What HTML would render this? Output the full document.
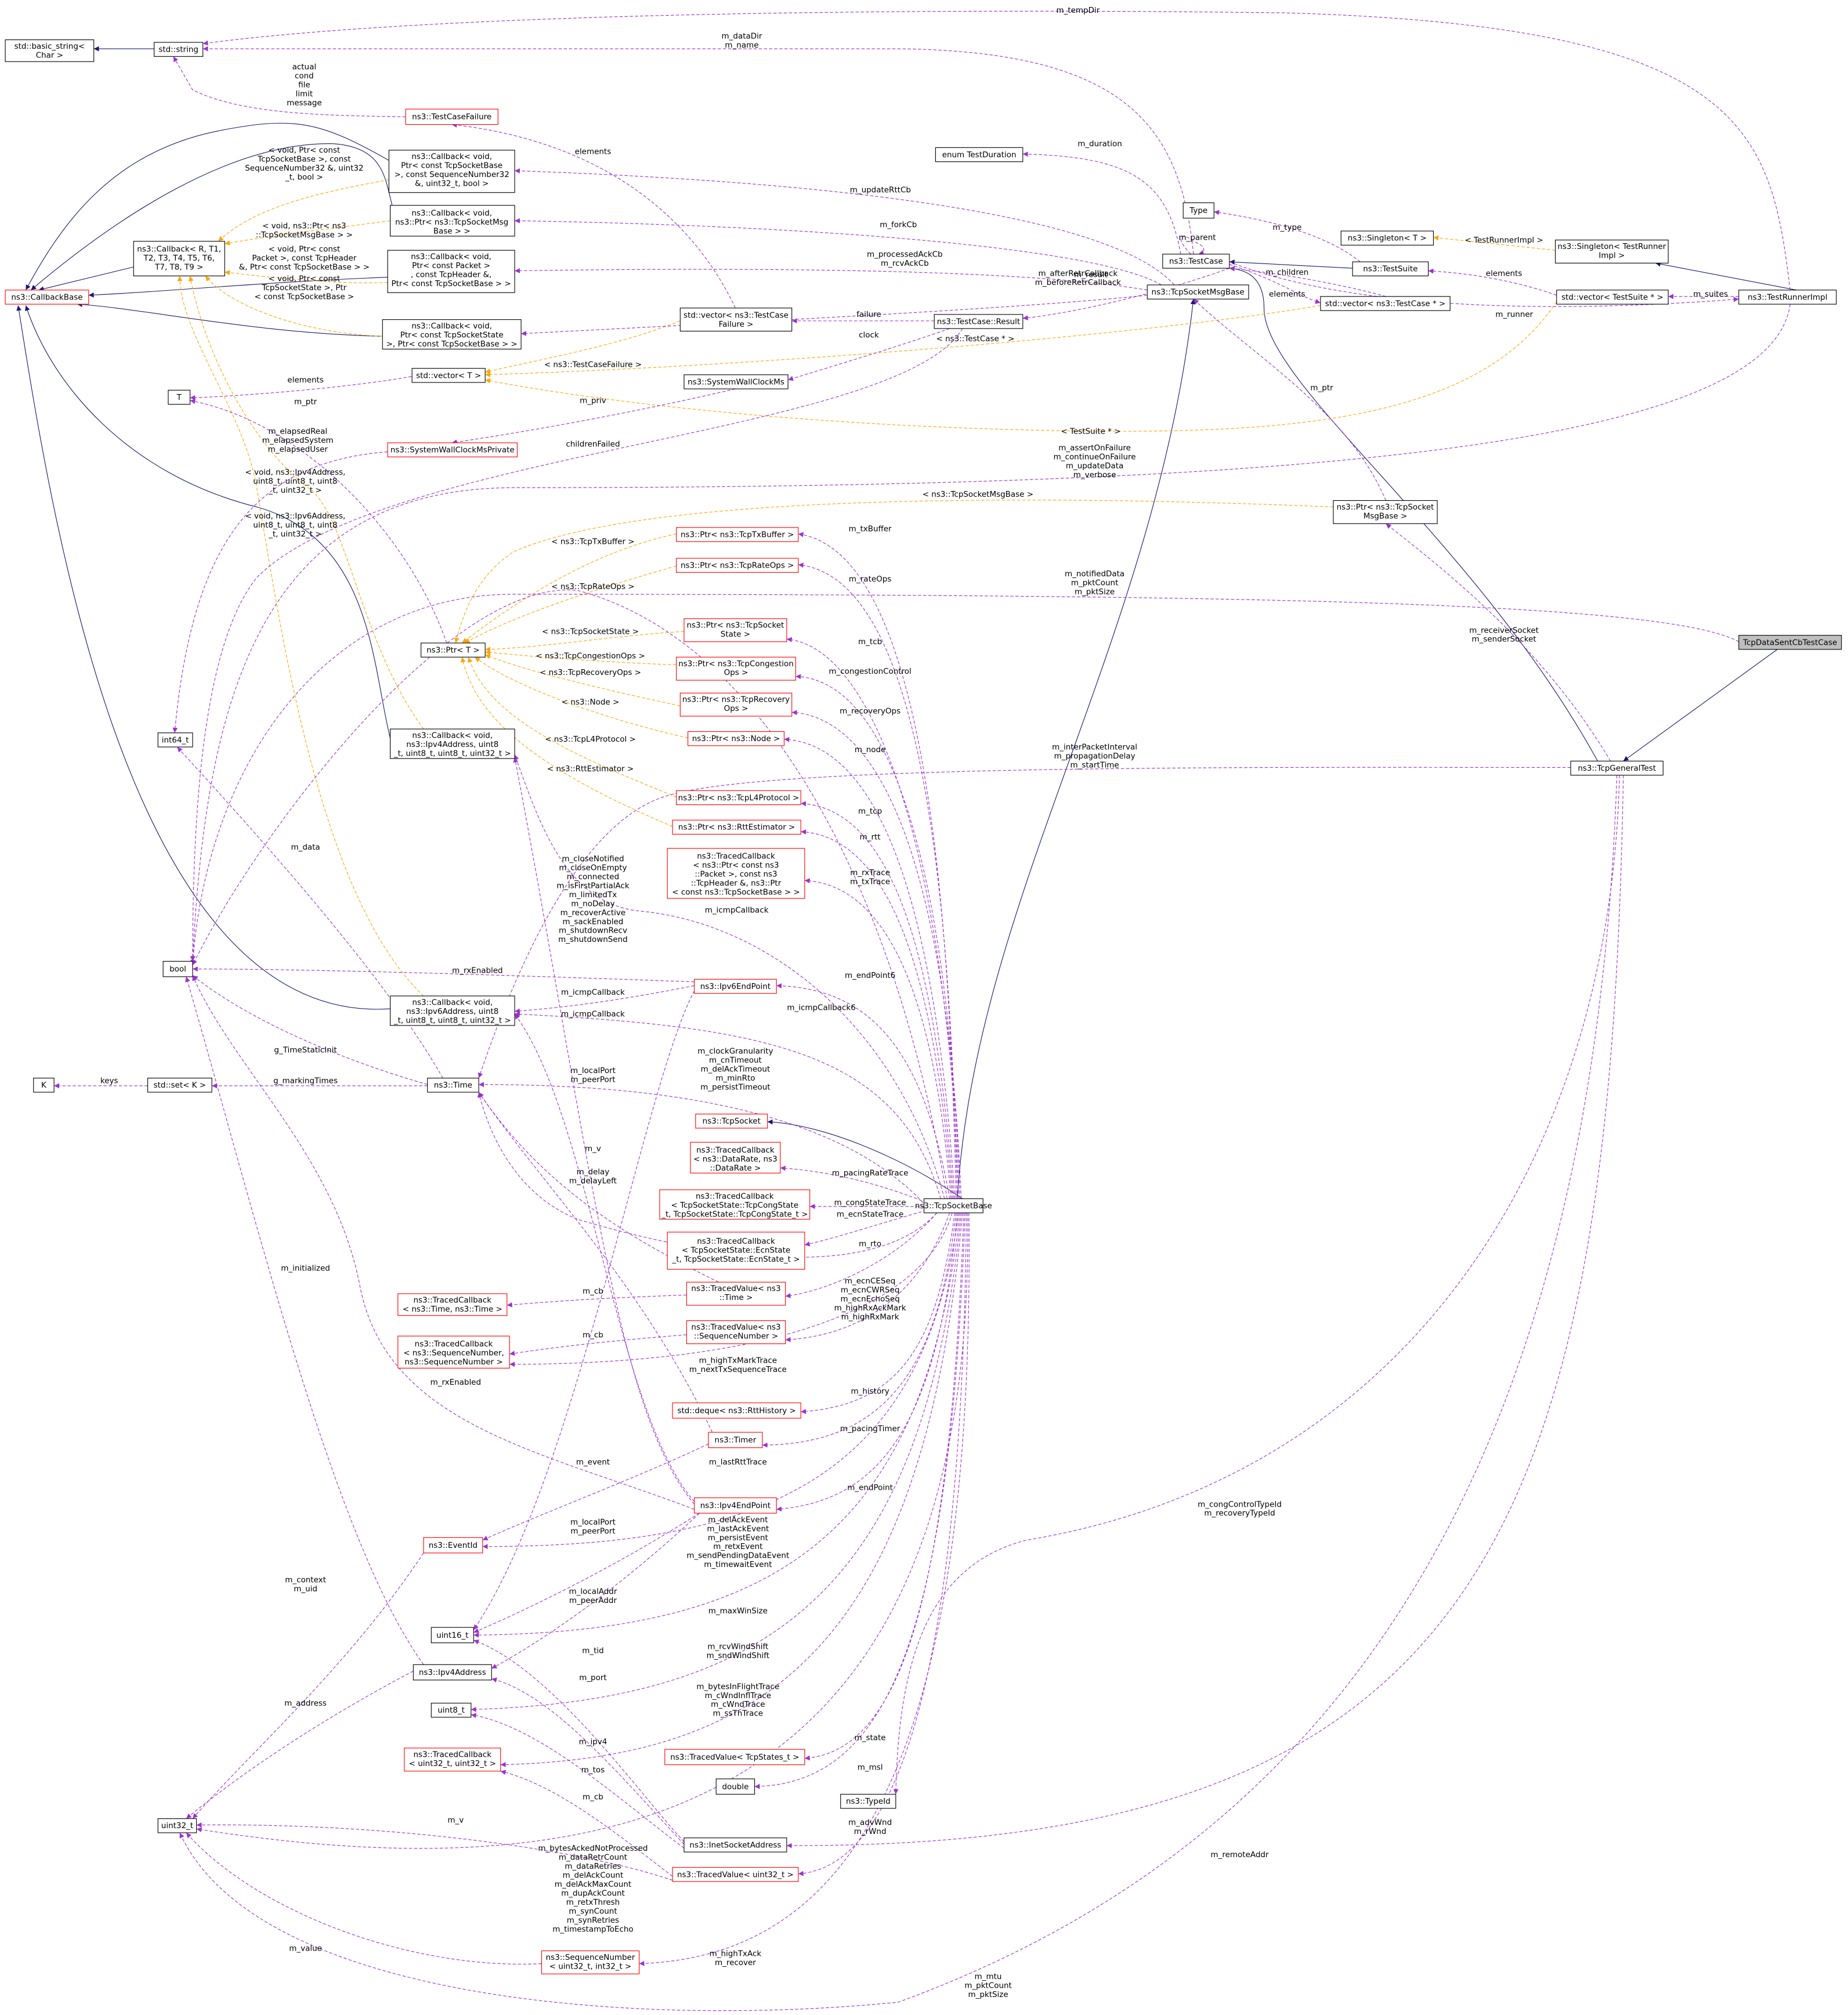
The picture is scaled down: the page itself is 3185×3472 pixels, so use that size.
<!DOCTYPE html>
<html><head><meta charset="utf-8"><style>
html,body{margin:0;padding:0;background:#fff;}
svg{display:block;}
text{font-family:"DejaVu Sans","Liberation Sans",sans-serif;font-size:6.1px;fill:#000;text-anchor:middle;}
.p{fill:none;stroke:#9a32cd;stroke-width:0.5;stroke-dasharray:2.5,1.5;}
.o{fill:none;stroke:#ffa500;stroke-width:0.5;stroke-dasharray:2.5,1.5;}
.n{fill:none;stroke:#191970;stroke-width:0.5;}
.b{fill:#fff;stroke:#000;stroke-width:0.5;}
.r{fill:#fff;stroke:#ff0000;stroke-width:0.5;}
.g{fill:#bfbfbf;stroke:#000;stroke-width:0.5;}
</style></head><body>
<svg width="3185" height="3472" viewBox="0 0 1440 1570" xmlns="http://www.w3.org/2000/svg">
<defs>
<marker id="ap" viewBox="0 0 10 10" refX="10" refY="5" markerWidth="4" markerHeight="4" markerUnits="userSpaceOnUse" orient="auto"><path d="M0,0L10,5L0,10z" fill="#9a32cd"/></marker>
<marker id="ao" viewBox="0 0 10 10" refX="10" refY="5" markerWidth="4" markerHeight="4" markerUnits="userSpaceOnUse" orient="auto"><path d="M0,0L10,5L0,10z" fill="#ffa500"/></marker>
<marker id="an" viewBox="0 0 10 10" refX="10" refY="5" markerWidth="4" markerHeight="4" markerUnits="userSpaceOnUse" orient="auto"><path d="M0,0L10,5L0,10z" fill="#191970"/></marker>
</defs>

<!-- navy edges -->
<g class="n" marker-end="url(#an)">
<path d="M120,38L73,38"/>
<path d="M303,125C250,95 230,90 170,102C90,118 50,170 20,226"/>
<path d="M306,162C300,140 300,115 260,112C180,110 90,170 24,226"/>
<path d="M104,208L30,226"/>
<path d="M302,216C200,220 120,228 69,230"/>
<path d="M298,262C200,260 110,240 60,237"/>
<path d="M304,575C290,520 290,420 200,395C100,370 40,300 20,238"/>
<path d="M304,786C100,800 40,400 14,238"/>
<path d="M1054,209L958,204"/>
<path d="M1245,593C1150,420 985,300 985,240C985,215 970,210 958,209"/>
<path d="M746,934C760,700 900,500 930,233"/>
<path d="M750,934C700,900 640,876 598,874"/>
<path d="M1400,226L1290,205"/>
<path d="M1385,506L1265,593"/>
</g>

<!-- orange edges -->
<g class="o" marker-end="url(#ao)">
<path d="M303,140C250,150 200,160 170,188"/>
<path d="M304,172C260,178 220,182 175,190"/>
<path d="M302,220C260,222 200,215 175,212"/>
<path d="M298,262C240,260 180,240 160,215"/>
<path d="M330,568C280,500 270,400 240,380C200,350 160,280 148,215"/>
<path d="M330,776C250,700 220,500 200,380C190,320 140,260 140,215"/>
<path d="M530,250C480,270 420,280 378,290"/>
<path d="M1029,238C900,260 600,285 378,292"/>
<path d="M1213,235C1150,330 1000,340 800,335C600,330 450,310 378,296"/>
<path d="M527,416C460,430 400,470 360,501"/>
<path d="M527,441C460,460 400,480 362,501"/>
<path d="M533,492C480,495 420,505 378,506"/>
<path d="M527,518C470,516 420,512 378,508"/>
<path d="M530,550C460,535 400,520 378,510"/>
<path d="M536,575C470,560 400,535 370,512"/>
<path d="M527,621C450,590 380,560 365,512"/>
<path d="M524,644C420,600 370,560 360,512"/>
<path d="M1039,395C800,385 500,385 400,430C370,450 360,480 355,501"/>
<path d="M1212,195L1117,185"/>
</g>

<!-- purple edges -->
<g class="p" marker-end="url(#ap)">
<path d="M1395,226C1380,100 1360,20 1000,10C600,5 300,15 158,34"/>
<path d="M930,198C920,100 880,40 700,38L158,38"/>
<path d="M316,91C260,90 190,90 150,70L135,44"/>
<path d="M573,240C540,170 470,110 352,97"/>
<path d="M920,198C910,140 880,122 797,120"/>
<path d="M915,222C860,160 600,140 401,133"/>
<path d="M905,222C850,190 600,175 401,172"/>
<path d="M894,226C800,210 600,208 401,211"/>
<path d="M894,230C800,240 600,250 406,260"/>
<path d="M1060,204C1030,180 980,170 946,165"/>
<path d="M928,198C915,185 920,180 930,188C940,192 940,196 934,198"/>
<path d="M958,206C1000,220 1010,230 1029,236"/>
<path d="M958,209C900,230 830,245 797,248"/>
<path d="M1213,230C1170,215 1130,212 1113,211"/>
<path d="M1080,231C1040,220 990,212 958,209"/>
<path d="M1355,231L1300,231"/>
<path d="M958,204C1050,240 1200,245 1355,233"/>
<path d="M728,250L617,250"/>
<path d="M740,256C700,270 650,285 614,296"/>
<path d="M750,256C700,340 300,350 200,450C160,500 150,620 150,749"/>
<path d="M352,287C300,300 200,308 148,310"/>
<path d="M573,303C500,320 420,335 352,345"/>
<path d="M302,352C200,360 150,420 136,571"/>
<path d="M348,501C320,420 240,330 148,312"/>
<path d="M1395,237C1380,350 1000,380 400,380C200,380 160,550 150,749"/>
<path d="M1080,390C1050,320 980,280 930,233"/>
<path d="M1255,593C1200,500 1120,440 1080,408"/>
<path d="M1355,500C1300,470 1000,463 400,463C250,463 160,600 150,752"/>
<path d="M1224,598C1000,598 600,595 520,620C450,640 400,760 373,840"/>
<path d="M1260,604C1240,1200 1000,1450 700,1560C500,1580 200,1560 140,1428"/>
<path d="M1262,604C1255,900 1100,1150 800,1200C720,1220 700,1300 698,1398"/>
<path d="M1265,604C1255,1200 1150,1440 613,1438"/>
<path d="M745,934C740,700 720,430 622,416"/>
<path d="M746,934C740,700 720,450 622,440"/>
<path d="M747,934C740,700 690,505 613,498"/>
<path d="M748,934C740,700 700,530 620,527"/>
<path d="M749,934C740,720 700,560 617,555"/>
<path d="M744,934C730,720 690,580 611,576"/>
<path d="M743,934C730,760 700,630 624,626"/>
<path d="M742,934C730,780 700,652 624,648"/>
<path d="M741,934C730,800 700,690 627,686"/>
<path d="M740,934C720,820 680,770 605,768"/>
<path d="M738,934C700,700 600,500 450,460C350,450 200,650 150,752"/>
<path d="M736,934C700,800 600,720 500,710C440,705 420,640 401,588"/>
<path d="M733,934C700,820 600,800 401,790"/>
<path d="M722,940C650,860 500,845 373,845"/>
<path d="M722,937C680,920 640,912 608,910"/>
<path d="M720,940L631,940"/>
<path d="M722,943C680,955 650,965 627,970"/>
<path d="M730,945C700,980 650,1005 612,1010"/>
<path d="M740,945C720,1000 680,1040 612,1044"/>
<path d="M742,945C720,1020 600,1063 397,1063"/>
<path d="M744,945C730,1050 700,1095 624,1100"/>
<path d="M745,945C730,1080 680,1125 594,1126"/>
<path d="M746,945C730,1120 680,1170 605,1176"/>
<path d="M747,945C720,1150 600,1205 376,1205"/>
<path d="M748,945C720,1200 600,1272 369,1274"/>
<path d="M749,945C720,1240 600,1325 367,1332"/>
<path d="M750,945C720,1280 600,1370 390,1375"/>
<path d="M751,945C740,1250 700,1365 627,1370"/>
<path d="M752,945C740,1280 690,1390 588,1392"/>
<path d="M753,945C750,1300 700,1455 622,1460"/>
<path d="M754,945C760,1400 500,1480 153,1425"/>
<path d="M755,945C760,1400 650,1525 498,1530"/>
<path d="M730,945C680,1000 550,980 450,950C400,930 380,880 373,851"/>
<path d="M541,1170C480,1100 460,870 401,790"/>
<path d="M541,768C480,780 440,785 401,788"/>
<path d="M541,765C400,760 250,755 150,755"/>
<path d="M541,772C500,850 450,1150 369,1270"/>
<path d="M541,1172C480,1100 460,900 401,590"/>
<path d="M541,1176C420,1130 300,1110 280,1000C260,900 180,830 150,760"/>
<path d="M545,1179C480,1220 420,1250 369,1272"/>
<path d="M545,1179C480,1240 420,1280 383,1300"/>
<path d="M552,1125C500,1150 420,1180 376,1200"/>
<path d="M555,1116C500,1000 420,920 373,851"/>
<path d="M535,1009C450,1012 420,1015 395,1017"/>
<path d="M560,999C480,960 420,920 373,851"/>
<path d="M535,1040C470,1045 430,1050 397,1055"/>
<path d="M333,845C280,830 200,800 150,760"/>
<path d="M345,840C300,760 200,650 138,582"/>
<path d="M333,846L165,846"/>
<path d="M115,846L42,846"/>
<path d="M330,1210C270,1300 200,1360 150,1417"/>
<path d="M322,1302C250,1340 190,1380 145,1417"/>
<path d="M330,1297C260,1200 200,950 145,761"/>
<path d="M533,1435C500,1400 430,1300 369,1278"/>
<path d="M533,1437C480,1380 430,1320 383,1308"/>
<path d="M533,1440C480,1400 420,1345 367,1336"/>
<path d="M524,1462C470,1420 430,1390 390,1380"/>
<path d="M524,1465C450,1440 300,1420 153,1422"/>
<path d="M422,1530C320,1535 200,1490 145,1428"/>
</g>

<!-- nodes -->
<rect class="b" x="4" y="31" width="69" height="17"/><text x="38.5" y="38">std::basic_string&lt;</text><text x="38.5" y="45">Char &gt;</text>
<rect class="b" x="120" y="33" width="38" height="11"/><text x="139" y="40.5">std::string</text>
<rect class="r" x="316" y="85" width="72" height="12"/><text x="352" y="93">ns3::TestCaseFailure</text>
<rect class="b" x="303" y="117" width="98" height="33"/><text x="352" y="124">ns3::Callback&lt; void,</text><text x="352" y="131">Ptr&lt; const TcpSocketBase</text><text x="352" y="138">&gt;, const SequenceNumber32</text><text x="352" y="145">&amp;, uint32_t, bool &gt;</text>
<rect class="b" x="304" y="160" width="97" height="24"/><text x="352" y="168">ns3::Callback&lt; void,</text><text x="352" y="175">ns3::Ptr&lt; ns3::TcpSocketMsg</text><text x="352" y="182">Base &gt; &gt;</text>
<rect class="b" x="104" y="188" width="71" height="27"/><text x="139.5" y="196">ns3::Callback&lt; R, T1,</text><text x="139.5" y="203">T2, T3, T4, T5, T6,</text><text x="139.5" y="210">T7, T8, T9 &gt;</text>
<rect class="r" x="4" y="226" width="65" height="11"/><text x="36.5" y="233.5">ns3::CallbackBase</text>
<rect class="b" x="302" y="195" width="99" height="33"/><text x="351.5" y="202">ns3::Callback&lt; void,</text><text x="351.5" y="209">Ptr&lt; const Packet &gt;</text><text x="351.5" y="216">, const TcpHeader &amp;,</text><text x="351.5" y="223">Ptr&lt; const TcpSocketBase &gt; &gt;</text>
<rect class="b" x="298" y="249" width="108" height="23"/><text x="352" y="256">ns3::Callback&lt; void,</text><text x="352" y="263">Ptr&lt; const TcpSocketState</text><text x="352" y="270">&gt;, Ptr&lt; const TcpSocketBase &gt; &gt;</text>
<rect class="b" x="321" y="287" width="57" height="11"/><text x="349.5" y="294.5">std::vector&lt; T &gt;</text>
<rect class="b" x="131" y="304" width="17" height="11"/><text x="139.5" y="311.5">T</text>
<rect class="r" x="302" y="345" width="101" height="11"/><text x="352.5" y="352.5">ns3::SystemWallClockMsPrivate</text>
<rect class="b" x="530" y="240" width="87" height="18"/><text x="573.5" y="247.5">std::vector&lt; ns3::TestCase</text><text x="573.5" y="254.5">Failure &gt;</text>
<rect class="b" x="533" y="292" width="81" height="11"/><text x="573.5" y="299.5">ns3::SystemWallClockMs</text>
<rect class="b" x="728" y="245" width="69" height="11"/><text x="762.5" y="252.5">ns3::TestCase::Result</text>
<rect class="b" x="729" y="115" width="68" height="11"/><text x="763" y="122.5">enum TestDuration</text>
<rect class="b" x="922" y="158" width="24" height="12"/><text x="934" y="166">Type</text>
<rect class="b" x="906" y="198" width="52" height="11"/><text x="932" y="205.5">ns3::TestCase</text>
<rect class="b" x="894" y="222" width="79" height="11"/><text x="933.5" y="229.5">ns3::TcpSocketMsgBase</text>
<rect class="b" x="1029" y="231" width="101" height="11"/><text x="1079.5" y="238.5">std::vector&lt; ns3::TestCase * &gt;</text>
<rect class="b" x="1054" y="204" width="59" height="11"/><text x="1083.5" y="211.5">ns3::TestSuite</text>
<rect class="b" x="1045" y="180" width="72" height="11"/><text x="1081" y="187.5">ns3::Singleton&lt; T &gt;</text>
<rect class="b" x="1212" y="187" width="88" height="18"/><text x="1256" y="194">ns3::Singleton&lt; TestRunner</text><text x="1256" y="201">Impl &gt;</text>
<rect class="b" x="1213" y="226" width="87" height="11"/><text x="1256.5" y="233.5">std::vector&lt; TestSuite * &gt;</text>
<rect class="b" x="1355" y="226" width="76" height="11"/><text x="1393" y="233.5">ns3::TestRunnerImpl</text>
<rect class="b" x="1039" y="390" width="81" height="18"/><text x="1079.5" y="397">ns3::Ptr&lt; ns3::TcpSocket</text><text x="1079.5" y="404">MsgBase &gt;</text>
<rect class="g" x="1355" y="495" width="80" height="11"/><text x="1395" y="502.5">TcpDataSentCbTestCase</text>
<rect class="b" x="1224" y="593" width="72" height="11"/><text x="1260" y="600.5">ns3::TcpGeneralTest</text>
<rect class="b" x="328" y="501" width="50" height="11"/><text x="353" y="508.5">ns3::Ptr&lt; T &gt;</text>
<rect class="b" x="123" y="571" width="27" height="11"/><text x="136.5" y="578.5">int64_t</text>
<rect class="b" x="304" y="568" width="97" height="23"/><text x="352.5" y="575">ns3::Callback&lt; void,</text><text x="352.5" y="582">ns3::Ipv4Address, uint8</text><text x="352.5" y="589">_t, uint8_t, uint8_t, uint32_t &gt;</text>
<rect class="b" x="127" y="749" width="23" height="12"/><text x="138.5" y="757">bool</text>
<rect class="b" x="304" y="776" width="97" height="23"/><text x="352.5" y="783">ns3::Callback&lt; void,</text><text x="352.5" y="790">ns3::Ipv6Address, uint8</text><text x="352.5" y="797">_t, uint8_t, uint8_t, uint32_t &gt;</text>
<rect class="b" x="26" y="840" width="16" height="11"/><text x="34" y="847.5">K</text>
<rect class="b" x="115" y="840" width="50" height="11"/><text x="140" y="847.5">std::set&lt; K &gt;</text>
<rect class="b" x="333" y="840" width="40" height="11"/><text x="353" y="847.5">ns3::Time</text>
<rect class="r" x="542" y="868" width="56" height="11"/><text x="570" y="875.5">ns3::TcpSocket</text>
<rect class="b" x="720" y="934" width="46" height="11"/><text x="743" y="941.5">ns3::TcpSocketBase</text>

<rect class="r" x="527" y="411" width="95" height="11"/><text x="574.5" y="418.5">ns3::Ptr&lt; ns3::TcpTxBuffer &gt;</text>
<rect class="r" x="527" y="435" width="95" height="11"/><text x="574.5" y="442.5">ns3::Ptr&lt; ns3::TcpRateOps &gt;</text>
<rect class="r" x="533" y="482" width="80" height="18"/><text x="573" y="489">ns3::Ptr&lt; ns3::TcpSocket</text><text x="573" y="496">State &gt;</text>
<rect class="r" x="527" y="512" width="93" height="18"/><text x="573.5" y="519">ns3::Ptr&lt; ns3::TcpCongestion</text><text x="573.5" y="526">Ops &gt;</text>
<rect class="r" x="530" y="540" width="87" height="18"/><text x="573.5" y="547">ns3::Ptr&lt; ns3::TcpRecovery</text><text x="573.5" y="554">Ops &gt;</text>
<rect class="r" x="536" y="570" width="75" height="11"/><text x="573.5" y="577.5">ns3::Ptr&lt; ns3::Node &gt;</text>
<rect class="r" x="527" y="616" width="97" height="11"/><text x="575.5" y="623.5">ns3::Ptr&lt; ns3::TcpL4Protocol &gt;</text>
<rect class="r" x="524" y="639" width="100" height="11"/><text x="574" y="646.5">ns3::Ptr&lt; ns3::RttEstimator &gt;</text>
<rect class="r" x="520" y="661" width="107" height="39"/><text x="573.5" y="669">ns3::TracedCallback</text><text x="573.5" y="676">&lt; ns3::Ptr&lt; const ns3</text><text x="573.5" y="683">::Packet &gt;, const ns3</text><text x="573.5" y="690">::TcpHeader &amp;, ns3::Ptr</text><text x="573.5" y="697">&lt; const ns3::TcpSocketBase &gt; &gt;</text>
<rect class="r" x="541" y="763" width="64" height="11"/><text x="573" y="770.5">ns3::Ipv6EndPoint</text>
<rect class="r" x="538" y="890" width="70" height="24"/><text x="573" y="898">ns3::TracedCallback</text><text x="573" y="905">&lt; ns3::DataRate, ns3</text><text x="573" y="912">::DataRate &gt;</text>
<rect class="r" x="514" y="927" width="117" height="23"/><text x="572.5" y="934">ns3::TracedCallback</text><text x="572.5" y="941">&lt; TcpSocketState::TcpCongState</text><text x="572.5" y="948">_t, TcpSocketState::TcpCongState_t &gt;</text>
<rect class="r" x="520" y="960" width="107" height="29"/><text x="573.5" y="969">ns3::TracedCallback</text><text x="573.5" y="976">&lt; TcpSocketState::EcnState</text><text x="573.5" y="983">_t, TcpSocketState::EcnState_t &gt;</text>
<rect class="r" x="535" y="999" width="77" height="18"/><text x="573.5" y="1006">ns3::TracedValue&lt; ns3</text><text x="573.5" y="1013">::Time &gt;</text>
<rect class="r" x="535" y="1029" width="77" height="18"/><text x="573.5" y="1036">ns3::TracedValue&lt; ns3</text><text x="573.5" y="1043">::SequenceNumber &gt;</text>
<rect class="r" x="524" y="1093" width="100" height="12"/><text x="574" y="1101">std::deque&lt; ns3::RttHistory &gt;</text>
<rect class="r" x="552" y="1116" width="42" height="12"/><text x="573" y="1124">ns3::Timer</text>
<rect class="r" x="541" y="1167" width="64" height="12"/><text x="573" y="1175">ns3::Ipv4EndPoint</text>
<rect class="r" x="518" y="1363" width="109" height="12"/><text x="572.5" y="1371">ns3::TracedValue&lt; TcpStates_t &gt;</text>
<rect class="b" x="558" y="1386" width="30" height="12"/><text x="573" y="1394">double</text>
<rect class="b" x="655" y="1398" width="43" height="11"/><text x="676.5" y="1405.5">ns3::TypeId</text>
<rect class="b" x="533" y="1432" width="80" height="11"/><text x="573" y="1439.5">ns3::InetSocketAddress</text>
<rect class="r" x="524" y="1455" width="98" height="11"/><text x="573" y="1462.5">ns3::TracedValue&lt; uint32_t &gt;</text>
<rect class="r" x="422" y="1520" width="76" height="18"/><text x="460" y="1527">ns3::SequenceNumber</text><text x="460" y="1534">&lt; uint32_t, int32_t &gt;</text>
<rect class="r" x="310" y="1008" width="85" height="17"/><text x="352.5" y="1015">ns3::TracedCallback</text><text x="352.5" y="1022">&lt; ns3::Time, ns3::Time &gt;</text>
<rect class="r" x="310" y="1041" width="87" height="25"/><text x="353.5" y="1049">ns3::TracedCallback</text><text x="353.5" y="1056">&lt; ns3::SequenceNumber,</text><text x="353.5" y="1063">ns3::SequenceNumber &gt;</text>
<rect class="r" x="330" y="1198" width="46" height="12"/><text x="353" y="1206">ns3::EventId</text>
<rect class="b" x="336" y="1268" width="33" height="12"/><text x="352.5" y="1276">uint16_t</text>
<rect class="b" x="322" y="1297" width="61" height="12"/><text x="352.5" y="1305">ns3::Ipv4Address</text>
<rect class="b" x="336" y="1327" width="31" height="11"/><text x="351.5" y="1334.5">uint8_t</text>
<rect class="r" x="315" y="1362" width="75" height="18"/><text x="352.5" y="1369">ns3::TracedCallback</text><text x="352.5" y="1376">&lt; uint32_t, uint32_t &gt;</text>
<rect class="b" x="123" y="1417" width="30" height="11"/><text x="138" y="1424.5">uint32_t</text>

<!-- labels -->
<text x="840" y="10">m_tempDir</text>
<text x="578" y="30">m_dataDir</text><text x="578" y="37">m_name</text>
<text x="237" y="54">actual</text><text x="237" y="61">cond</text><text x="237" y="68">file</text><text x="237" y="75">limit</text><text x="237" y="82">message</text>
<text x="462" y="120">elements</text>
<text x="857" y="114">m_duration</text>
<text x="686" y="150">m_updateRttCb</text>
<text x="700" y="177">m_forkCb</text>
<text x="1003" y="179">m_type</text>
<text x="933" y="187">m_parent</text>
<text x="1172" y="189">&lt; TestRunnerImpl &gt;</text>
<text x="237" y="119">&lt; void, Ptr&lt; const</text><text x="237" y="126">TcpSocketBase &gt;, const</text><text x="237" y="133">SequenceNumber32 &amp;, uint32</text><text x="237" y="140">_t, bool &gt;</text>
<text x="237" y="178">&lt; void, ns3::Ptr&lt; ns3</text><text x="237" y="185">::TcpSocketMsgBase &gt; &gt;</text>
<text x="237" y="196">&lt; void, Ptr&lt; const</text><text x="237" y="203">Packet &gt;, const TcpHeader</text><text x="237" y="210">&amp;, Ptr&lt; const TcpSocketBase &gt; &gt;</text>
<text x="237" y="219">&lt; void, Ptr&lt; const</text><text x="237" y="226">TcpSocketState &gt;, Ptr</text><text x="237" y="233">&lt; const TcpSocketBase &gt;</text>
<text x="705" y="200">m_processedAckCb</text><text x="705" y="207">m_rcvAckCb</text>
<text x="850" y="216">m_result</text>
<text x="840" y="215">m_afterRetrCallback</text><text x="840" y="222">m_beforeRetrCallback</text>
<text x="1003" y="214">m_children</text>
<text x="1172" y="215">elements</text>
<text x="1003" y="231">elements</text>
<text x="1333" y="231">m_suites</text>
<text x="1180" y="247">m_runner</text>
<text x="677" y="247">failure</text>
<text x="677" y="263">clock</text>
<text x="760" y="266">&lt; ns3::TestCase * &gt;</text>
<text x="462" y="286">&lt; ns3::TestCaseFailure &gt;</text>
<text x="238" y="298">elements</text>
<text x="462" y="314">m_priv</text>
<text x="238" y="315">m_ptr</text>
<text x="850" y="338">&lt; TestSuite * &gt;</text>
<text x="1030" y="304">m_ptr</text>
<text x="232" y="338">m_elapsedReal</text><text x="232" y="345">m_elapsedSystem</text><text x="232" y="352">m_elapsedUser</text>
<text x="462" y="348">childrenFailed</text>
<text x="853" y="351">m_assertOnFailure</text><text x="853" y="358">m_continueOnFailure</text><text x="853" y="365">m_updateData</text><text x="853" y="372">m_verbose</text>
<text x="230" y="370">&lt; void, ns3::Ipv4Address,</text><text x="230" y="377">uint8_t, uint8_t, uint8</text><text x="230" y="384">_t, uint32_t &gt;</text>
<text x="230" y="404">&lt; void, ns3::Ipv6Address,</text><text x="230" y="411">uint8_t, uint8_t, uint8</text><text x="230" y="418">_t, uint32_t &gt;</text>
<text x="762" y="387">&lt; ns3::TcpSocketMsgBase &gt;</text>
<text x="462" y="424">&lt; ns3::TcpTxBuffer &gt;</text>
<text x="678" y="414">m_txBuffer</text>
<text x="853" y="449">m_notifiedData</text><text x="853" y="456">m_pktCount</text><text x="853" y="463">m_pktSize</text>
<text x="462" y="459">&lt; ns3::TcpRateOps &gt;</text>
<text x="678" y="453">m_rateOps</text>
<text x="1172" y="493">m_receiverSocket</text><text x="1172" y="500">m_senderSocket</text>
<text x="460" y="494">&lt; ns3::TcpSocketState &gt;</text>
<text x="678" y="502">m_tcb</text>
<text x="460" y="513">&lt; ns3::TcpCongestionOps &gt;</text>
<text x="460" y="526">&lt; ns3::TcpRecoveryOps &gt;</text>
<text x="678" y="525">m_congestionControl</text>
<text x="460" y="549">&lt; ns3::Node &gt;</text>
<text x="678" y="556">m_recoveryOps</text>
<text x="678" y="586">m_node</text>
<text x="460" y="578">&lt; ns3::TcpL4Protocol &gt;</text>
<text x="853" y="584">m_interPacketInterval</text><text x="853" y="591">m_propagationDelay</text><text x="853" y="598">m_startTime</text>
<text x="460" y="601">&lt; ns3::RttEstimator &gt;</text>
<text x="678" y="634">m_tcp</text>
<text x="678" y="654">m_rtt</text>
<text x="462" y="671">m_closeNotified</text><text x="462" y="678">m_closeOnEmpty</text><text x="462" y="685">m_connected</text><text x="462" y="692">m_isFirstPartialAck</text><text x="462" y="699">m_limitedTx</text><text x="462" y="706">m_noDelay</text><text x="462" y="713">m_recoverActive</text><text x="462" y="720">m_sackEnabled</text><text x="462" y="727">m_shutdownRecv</text><text x="462" y="734">m_shutdownSend</text>
<text x="678" y="682">m_rxTrace</text><text x="678" y="689">m_txTrace</text>
<text x="574" y="711">m_icmpCallback</text>
<text x="238" y="662">m_data</text>
<text x="372" y="758">m_rxEnabled</text>
<text x="678" y="762">m_endPoint6</text>
<text x="462" y="775">m_icmpCallback</text>
<text x="640" y="787">m_icmpCallback6</text>
<text x="462" y="792">m_icmpCallback</text>
<text x="573" y="821">m_clockGranularity</text><text x="573" y="828">m_cnTimeout</text><text x="573" y="835">m_delAckTimeout</text><text x="573" y="842">m_minRto</text><text x="573" y="849">m_persistTimeout</text>
<text x="238" y="820">g_TimeStaticInit</text>
<text x="85" y="844">keys</text>
<text x="238" y="844">g_markingTimes</text>
<text x="462" y="836">m_localPort</text><text x="462" y="843">m_peerPort</text>
<text x="462" y="897">m_v</text>
<text x="462" y="915">m_delay</text><text x="462" y="922">m_delayLeft</text>
<text x="678" y="916">m_pacingRateTrace</text>
<text x="678" y="939">m_congStateTrace</text>
<text x="678" y="948">m_ecnStateTrace</text>
<text x="678" y="971">m_rto</text>
<text x="238" y="990">m_initialized</text>
<text x="462" y="1008">m_cb</text>
<text x="678" y="1000">m_ecnCESeq</text><text x="678" y="1007">m_ecnCWRSeq</text><text x="678" y="1014">m_ecnEchoSeq</text><text x="678" y="1021">m_highRxAckMark</text><text x="678" y="1028">m_highRxMark</text>
<text x="462" y="1042">m_cb</text>
<text x="575" y="1062">m_highTxMarkTrace</text><text x="575" y="1069">m_nextTxSequenceTrace</text>
<text x="355" y="1079">m_rxEnabled</text>
<text x="678" y="1086">m_history</text>
<text x="678" y="1115">m_pacingTimer</text>
<text x="575" y="1141">m_lastRttTrace</text>
<text x="462" y="1141">m_event</text>
<text x="678" y="1161">m_endPoint</text>
<text x="966" y="1174">m_congControlTypeId</text><text x="966" y="1181">m_recoveryTypeId</text>
<text x="462" y="1188">m_localPort</text><text x="462" y="1195">m_peerPort</text>
<text x="575" y="1186">m_delAckEvent</text><text x="575" y="1193">m_lastAckEvent</text><text x="575" y="1200">m_persistEvent</text><text x="575" y="1207">m_retxEvent</text><text x="575" y="1214">m_sendPendingDataEvent</text><text x="575" y="1221">m_timewaitEvent</text>
<text x="238" y="1233">m_context</text><text x="238" y="1240">m_uid</text>
<text x="462" y="1242">m_localAddr</text><text x="462" y="1249">m_peerAddr</text>
<text x="575" y="1257">m_maxWinSize</text>
<text x="462" y="1288">m_tid</text>
<text x="575" y="1285">m_rcvWindShift</text><text x="575" y="1292">m_sndWindShift</text>
<text x="462" y="1309">m_port</text>
<text x="575" y="1316">m_bytesInFlightTrace</text><text x="575" y="1323">m_cWndInflTrace</text><text x="575" y="1330">m_cWndTrace</text><text x="575" y="1337">m_ssThTrace</text>
<text x="238" y="1329">m_address</text>
<text x="462" y="1359">m_ipv4</text>
<text x="678" y="1356">m_state</text>
<text x="678" y="1379">m_msl</text>
<text x="462" y="1381">m_tos</text>
<text x="462" y="1402">m_cb</text>
<text x="355" y="1420">m_v</text>
<text x="678" y="1422">m_advWnd</text><text x="678" y="1429">m_rWnd</text>
<text x="966" y="1447">m_remoteAddr</text>
<text x="462" y="1442">m_bytesAckedNotProcessed</text><text x="462" y="1449">m_dataRetrCount</text><text x="462" y="1456">m_dataRetries</text><text x="462" y="1463">m_delAckCount</text><text x="462" y="1470">m_delAckMaxCount</text><text x="462" y="1477">m_dupAckCount</text><text x="462" y="1484">m_retxThresh</text><text x="462" y="1491">m_synCount</text><text x="462" y="1498">m_synRetries</text><text x="462" y="1505">m_timestampToEcho</text>
<text x="573" y="1524">m_highTxAck</text><text x="573" y="1531">m_recover</text>
<text x="238" y="1520">m_value</text>
<text x="770" y="1542">m_mtu</text><text x="770" y="1549">m_pktCount</text><text x="770" y="1556">m_pktSize</text>
</svg>
</body></html>
